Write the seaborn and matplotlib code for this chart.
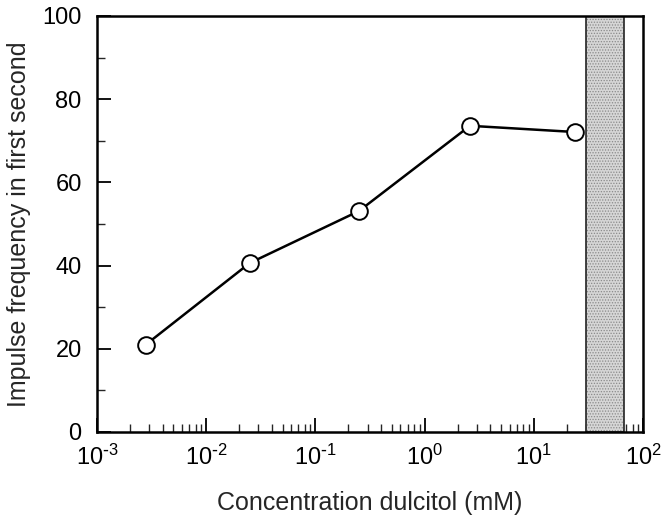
import matplotlib
matplotlib.use("Agg")
import matplotlib.pyplot as plt
import numpy as np
import pandas as pd
import seaborn as sns
from matplotlib.ticker import LogLocator, NullFormatter, MultipleLocator, FuncFormatter

# data
conc_mM = [0.0028, 0.025, 0.25, 2.6, 24.0]
impulse_freq = [21.0, 40.6, 53.1, 73.6, 72.1]
shade_lo, shade_hi = 30.0, 67.0  # stippled band (mM)

df = pd.DataFrame({"conc": conc_mM, "freq": impulse_freq})

sns.set_style("ticks")
plt.rcParams["font.family"] = ["Liberation Sans", "DejaVu Sans"]
plt.rcParams["mathtext.default"] = "regular"
plt.rcParams["hatch.color"] = "#8a8a8a"
plt.rcParams["hatch.linewidth"] = 0.6


def decade_label(v, pos):
    e = int(round(np.log10(v)))
    if e < 0:
        return r"$10^{\text{-}%d}$" % (-e)
    return r"$10^{%d}$" % e


fig = plt.figure(figsize=(6.66, 5.15), dpi=100)
ax = fig.add_axes([0.1456, 0.1612, 0.82, 0.8078])

ax.axvspan(shade_lo, shade_hi, facecolor="#d6d6d6", edgecolor="#8a8a8a",
           hatch="......", lw=0, zorder=1)
ax.axvspan(shade_lo, shade_hi, facecolor="none", edgecolor="#222222",
           lw=1.2, zorder=1.5)

sns.lineplot(data=df, x="conc", y="freq", ax=ax, color="black", lw=1.8,
             marker="o", markersize=12, markerfacecolor="white",
             markeredgecolor="black", markeredgewidth=1.4, zorder=3)

ax.set_xscale("log")
ax.set_xlim(1e-3, 1e2)
ax.set_ylim(0, 100)
ax.xaxis.set_major_locator(LogLocator(base=10, numticks=10))
ax.xaxis.set_major_formatter(FuncFormatter(decade_label))
ax.xaxis.set_minor_locator(LogLocator(base=10, subs=np.arange(2, 10), numticks=20))
ax.xaxis.set_minor_formatter(NullFormatter())
ax.yaxis.set_major_locator(MultipleLocator(20))
ax.yaxis.set_minor_locator(MultipleLocator(10))

ax.tick_params(axis="both", which="major", direction="in", length=10,
               width=1.3, labelsize=17, colors="black")
ax.tick_params(axis="both", which="minor", direction="in", length=6, width=1.0)
ax.tick_params(axis="x", which="major", pad=9)
ax.tick_params(axis="y", which="major", pad=11)

for sp in ax.spines.values():
    sp.set_visible(True)
    sp.set_linewidth(1.8)
    sp.set_color("black")

ax.set_xlabel("Concentration dulcitol (mM)", fontsize=18, labelpad=15)
ax.set_ylabel("Impulse frequency in first second", fontsize=18, labelpad=8)

fig.savefig("out.png", dpi=100)
plt.close(fig)
